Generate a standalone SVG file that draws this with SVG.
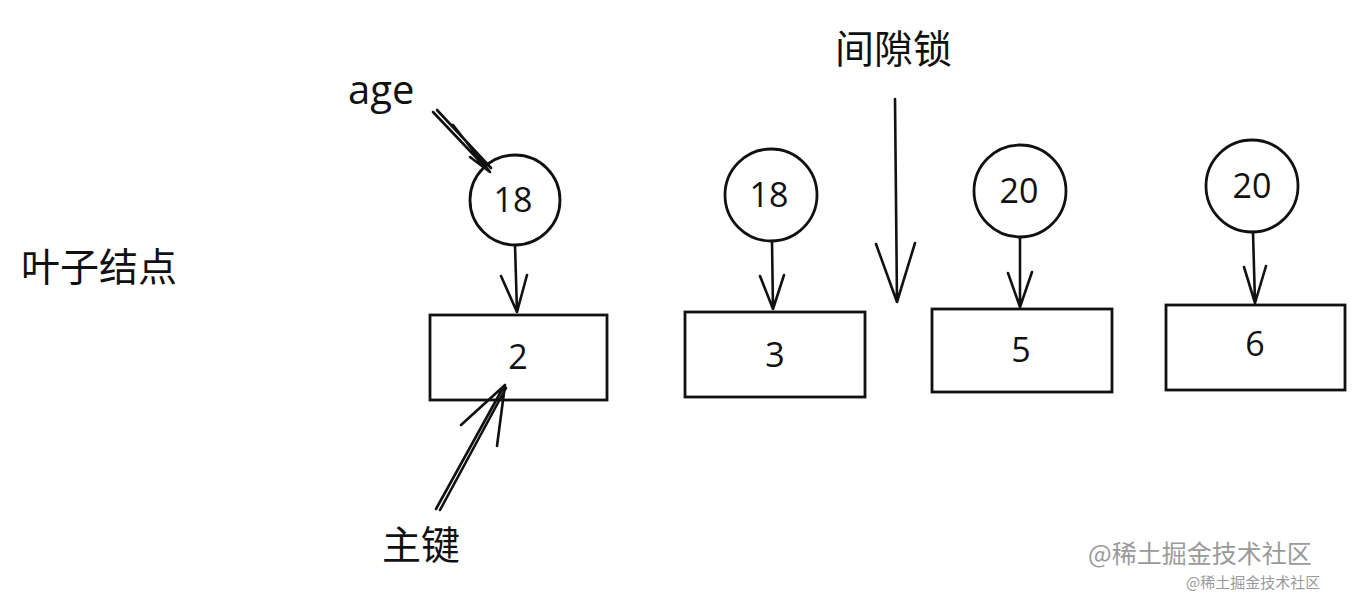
<svg xmlns="http://www.w3.org/2000/svg" width="1364" height="594" viewBox="0 0 1364 594">
<style>
.bg{fill:#ffffff}
.node rect,.node circle{fill:none;stroke:#111;stroke-width:2.8}
.num{font-family:"Open Sans","DejaVu Sans",sans-serif;font-size:34px;fill:#111;text-anchor:middle}
.cn{font-family:"Noto Sans CJK SC","Noto Sans",sans-serif;font-size:39px;fill:#111}
.hand{font-family:"Open Sans","DejaVu Sans",sans-serif;font-size:40px;fill:#111}
.edge{fill:none;stroke:#111;stroke-width:2.6;stroke-linecap:round;stroke-linejoin:round}
.wm{font-family:"Noto Sans CJK SC","Noto Sans",sans-serif;fill:#9a9a9a}
</style>
<rect class="bg" x="0" y="0" width="1364" height="594"/>

<g id="label-leaf"><text class="cn" x="21" y="281">叶子结点</text></g>
<g id="label-age"><text class="hand" x="348" y="104">age</text></g>
<g id="label-gaplock"><text class="cn" x="835" y="63">间隙锁</text></g>
<g id="label-pk"><text class="cn" x="382" y="559">主键</text></g>

<g id="c1" class="node"><circle cx="515" cy="200" r="45"/><text class="num" x="513" y="212">18</text></g>
<g id="c2" class="node"><circle cx="771" cy="195" r="46"/><text class="num" x="769" y="207">18</text></g>
<g id="c3" class="node"><circle cx="1020" cy="191" r="46"/><text class="num" x="1019" y="203">20</text></g>
<g id="c4" class="node"><circle cx="1252" cy="186" r="46"/><text class="num" x="1252" y="198">20</text></g>

<g id="b1" class="node"><rect x="430" y="315" width="177" height="85"/><text class="num" x="518" y="369">2</text></g>
<g id="b2" class="node"><rect x="685" y="312" width="180" height="85"/><text class="num" x="775" y="367">3</text></g>
<g id="b3" class="node"><rect x="932" y="309" width="180" height="83"/><text class="num" x="1021" y="362">5</text></g>
<g id="b4" class="node"><rect x="1166" y="305" width="179" height="85"/><text class="num" x="1255" y="356">6</text></g>

<g id="connectors">
  <path class="edge" d="M515 245 L517 312 M501 276 L517 312 L527 275"/>
  <path class="edge" d="M772 241 L773 309 M760 276 L773 309 L784 275"/>
  <path class="edge" d="M1020 237 L1020 307 M1008 273 L1020 307 L1032 272"/>
  <path class="edge" d="M1253 232 L1255 303 M1244 267 L1255 303 L1266 266"/>
  <path class="edge" d="M895 99 L897 302 M876 244 L897 302 L915 243"/>
  <path class="edge" d="M433 112 L488 170 M437 110 L491 168 M453 125 L490 172 L470 157"/>
  <path class="edge" d="M436 509 L504 386 M440 510 L506 388 M461 425 L505 385 L497 446"/>
</g>

<g id="watermark">
  <text class="wm" x="1088" y="563" font-size="25">@稀土掘金技术社区</text>
  <text class="wm" x="1186" y="588" font-size="15">@稀土掘金技术社区</text>
</g>
</svg>
